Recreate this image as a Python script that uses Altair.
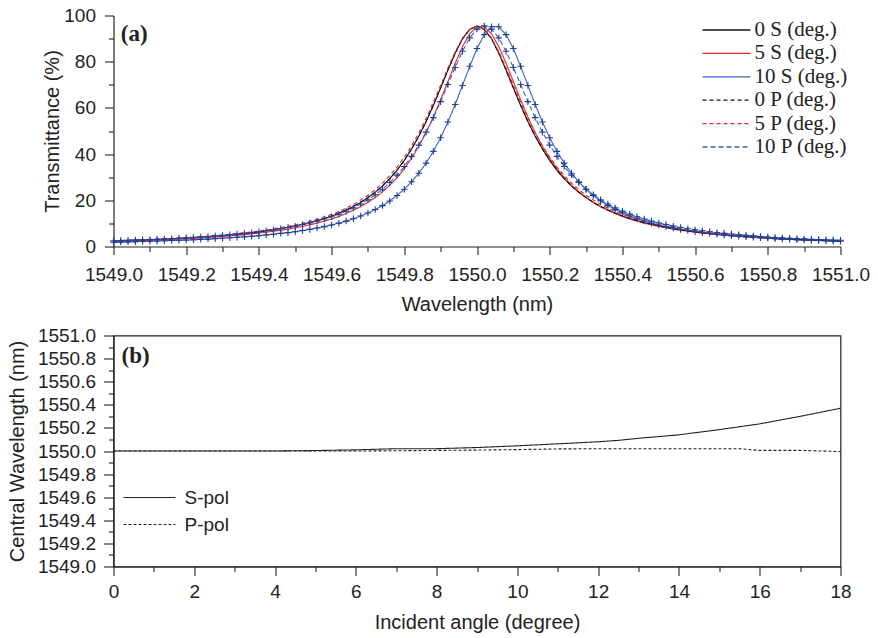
import altair as alt
import pandas as pd

# ---------------- panel (a) data ----------------
wl_start, wl_step, n_pts = 1549.0, 0.02, 101
wavelength = [round(wl_start + wl_step * i, 2) for i in range(n_pts)]

T_0S = [2.4, 2.5, 2.6, 2.7, 2.8, 2.9, 3.1, 3.2, 3.3, 3.5, 3.7, 3.9, 4.1, 4.3, 4.5, 4.7, 5.0, 5.3, 5.6, 6.0,
        6.3, 6.8, 7.2, 7.7, 8.3, 8.9, 9.6, 10.3, 11.2, 12.1, 13.2, 14.4, 15.8, 17.3, 19.1, 21.2, 23.5, 26.2, 29.4, 33.0,
        37.3, 42.2, 47.8, 54.1, 61.1, 68.7, 76.4, 83.7, 89.9, 94.0, 95.5, 94.0, 89.9, 83.7, 76.4, 68.7, 61.1, 54.1, 47.8, 42.2,
        37.3, 33.0, 29.4, 26.2, 23.5, 21.2, 19.1, 17.3, 15.8, 14.4, 13.2, 12.1, 11.2, 10.3, 9.6, 8.9, 8.3, 7.7, 7.2, 6.8,
        6.3, 6.0, 5.6, 5.3, 5.0, 4.7, 4.5, 4.3, 4.1, 3.9, 3.7, 3.5, 3.3, 3.2, 3.1, 2.9, 2.8, 2.7, 2.6, 2.5, 2.4]
T_5S = [2.2, 2.3, 2.4, 2.5, 2.6, 2.7, 2.8, 2.9, 3.1, 3.2, 3.4, 3.5, 3.7, 3.9, 4.1, 4.3, 4.6, 4.9, 5.1, 5.5,
        5.8, 6.2, 6.6, 7.0, 7.5, 8.1, 8.7, 9.4, 10.1, 11.0, 11.9, 13.0, 14.3, 15.7, 17.3, 19.1, 21.2, 23.7, 26.5, 29.8,
        33.7, 38.2, 43.4, 49.3, 56.1, 63.5, 71.4, 79.3, 86.5, 92.1, 95.1, 95.1, 92.1, 86.5, 79.3, 71.4, 63.5, 56.1, 49.3, 43.4,
        38.2, 33.7, 29.8, 26.5, 23.7, 21.2, 19.1, 17.3, 15.7, 14.3, 13.0, 11.9, 11.0, 10.1, 9.4, 8.7, 8.1, 7.5, 7.0, 6.6,
        6.2, 5.8, 5.5, 5.1, 4.9, 4.6, 4.3, 4.1, 3.9, 3.7, 3.5, 3.4, 3.2, 3.1, 2.9, 2.8, 2.7, 2.6, 2.5, 2.4, 2.3]
T_10S = [1.9, 1.9, 2.0, 2.1, 2.2, 2.3, 2.4, 2.5, 2.6, 2.7, 2.8, 2.9, 3.1, 3.2, 3.4, 3.6, 3.8, 4.0, 4.2, 4.4,
         4.7, 5.0, 5.3, 5.7, 6.0, 6.4, 6.9, 7.4, 8.0, 8.6, 9.3, 10.1, 11.0, 12.0, 13.2, 14.5, 16.0, 17.7, 19.7, 22.1,
         24.8, 28.0, 31.7, 36.1, 41.2, 47.1, 53.9, 61.5, 69.7, 78.0, 85.7, 91.7, 95.1, 95.1, 91.7, 85.7, 78.0, 69.7, 61.5, 53.9,
         47.1, 41.2, 36.1, 31.7, 28.0, 24.8, 22.1, 19.7, 17.7, 16.0, 14.5, 13.2, 12.0, 11.0, 10.1, 9.3, 8.6, 8.0, 7.4, 6.9,
         6.4, 6.0, 5.7, 5.3, 5.0, 4.7, 4.4, 4.2, 4.0, 3.8, 3.6, 3.4, 3.2, 3.1, 2.9, 2.8, 2.7, 2.6, 2.5, 2.4, 2.3]
T_0P = [2.4, 2.5, 2.6, 2.7, 2.8, 2.9, 3.1, 3.2, 3.3, 3.5, 3.7, 3.9, 4.1, 4.3, 4.5, 4.7, 5.0, 5.3, 5.6, 6.0,
        6.3, 6.8, 7.2, 7.7, 8.3, 8.9, 9.6, 10.3, 11.2, 12.1, 13.2, 14.4, 15.8, 17.3, 19.1, 21.2, 23.5, 26.2, 29.4, 33.0,
        37.3, 42.2, 47.8, 54.1, 61.1, 68.7, 76.4, 83.7, 89.9, 94.0, 95.5, 94.0, 89.9, 83.7, 76.4, 68.7, 61.1, 54.1, 47.8, 42.2,
        37.3, 33.0, 29.4, 26.2, 23.5, 21.2, 19.1, 17.3, 15.8, 14.4, 13.2, 12.1, 11.2, 10.3, 9.6, 8.9, 8.3, 7.7, 7.2, 6.8,
        6.3, 6.0, 5.6, 5.3, 5.0, 4.7, 4.5, 4.3, 4.1, 3.9, 3.7, 3.5, 3.3, 3.2, 3.1, 2.9, 2.8, 2.7, 2.6, 2.5, 2.4]
T_5P = [2.5, 2.6, 2.7, 2.9, 3.0, 3.1, 3.2, 3.4, 3.5, 3.7, 3.9, 4.1, 4.3, 4.5, 4.8, 5.0, 5.3, 5.6, 6.0, 6.3,
        6.7, 7.2, 7.6, 8.2, 8.7, 9.4, 10.1, 10.9, 11.8, 12.8, 13.9, 15.1, 16.6, 18.2, 20.1, 22.2, 24.6, 27.4, 30.7, 34.4,
        38.7, 43.6, 49.2, 55.5, 62.5, 69.8, 77.3, 84.3, 90.2, 94.1, 95.5, 94.1, 90.2, 84.3, 77.3, 69.8, 62.5, 55.5, 49.2, 43.6,
        38.7, 34.4, 30.7, 27.4, 24.6, 22.2, 20.1, 18.2, 16.6, 15.1, 13.9, 12.8, 11.8, 10.9, 10.1, 9.4, 8.7, 8.2, 7.6, 7.2,
        6.7, 6.3, 6.0, 5.6, 5.3, 5.0, 4.8, 4.5, 4.3, 4.1, 3.9, 3.7, 3.5, 3.4, 3.2, 3.1, 3.0, 2.9, 2.7, 2.6, 2.5]
T_10P = [2.5, 2.6, 2.7, 2.8, 2.9, 3.0, 3.1, 3.3, 3.4, 3.6, 3.8, 3.9, 4.1, 4.3, 4.6, 4.8, 5.1, 5.4, 5.7, 6.0,
         6.4, 6.8, 7.2, 7.7, 8.2, 8.8, 9.5, 10.2, 11.0, 11.9, 12.9, 14.0, 15.3, 16.7, 18.4, 20.2, 22.4, 24.8, 27.7, 30.9,
         34.6, 39.0, 43.9, 49.5, 55.8, 62.7, 70.1, 77.5, 84.5, 90.3, 94.1, 95.5, 94.1, 90.3, 84.5, 77.5, 70.1, 62.7, 55.8, 49.5,
         43.9, 39.0, 34.6, 30.9, 27.7, 24.8, 22.4, 20.2, 18.4, 16.7, 15.3, 14.0, 12.9, 11.9, 11.0, 10.2, 9.5, 8.8, 8.2, 7.7,
         7.2, 6.8, 6.4, 6.0, 5.7, 5.4, 5.1, 4.8, 4.6, 4.3, 4.1, 3.9, 3.8, 3.6, 3.4, 3.3, 3.1, 3.0, 2.9, 2.8, 2.7]

series_names = ["\u20070 S (deg.)", "\u20075 S (deg.)", "10 S (deg.)",
                "\u20070 P (deg.)", "\u20075 P (deg.)", "10 P (deg.)"]
series_values = [T_0S, T_5S, T_10S, T_0P, T_5P, T_10P]
series_colors = ["#111111", "#e8262a", "#3a63c2", "#111111", "#e8262a", "#3a63c2"]
series_dashes = [[1, 0], [1, 0], [1, 0], [4, 3], [4, 3], [5, 3]]
marker_series = ["10 S (deg.)", "10 P (deg.)"]

# ---------------- panel (b) data ----------------
angle_S = [0, 1, 2, 3, 4, 5, 6, 7, 8, 9, 10, 11, 12, 12.5, 13, 14, 15, 16, 17, 18]
cw_S = [1550.000, 1550.000, 1550.000, 1550.000, 1550.000, 1550.004, 1550.010, 1550.020, 1550.020, 1550.030,
        1550.045, 1550.062, 1550.080, 1550.092, 1550.110, 1550.140, 1550.185, 1550.235, 1550.300, 1550.370]
angle_P = [0, 1, 2, 3, 4, 5, 6, 7, 8, 9, 10, 11, 12, 13, 14, 15, 15.5, 16, 17, 18]
cw_P = [1550.000, 1550.000, 1550.000, 1550.000, 1550.000, 1550.000, 1550.000, 1550.002, 1550.005, 1550.008,
        1550.012, 1550.018, 1550.020, 1550.020, 1550.020, 1550.020, 1550.020, 1550.005, 1550.005, 1549.995]
pol_names = ["S-pol", "P-pol"]

# tick positions / labels
xa_ticks = [round(1549.0 + 0.1 * i, 1) for i in range(21)]
ya_ticks = [10 * i for i in range(11)]
xb_ticks = list(range(19))
yb_ticks = [round(1549.0 + 0.1 * i, 1) for i in range(21)]

# ---------------- build tables ----------------
rows_a = []
for name, vals in zip(series_names, series_values):
    for w, t in zip(wavelength, vals):
        rows_a.append({"wl": w, "T": t, "series": name})
df_a = pd.DataFrame(rows_a)

rows_b = []
for a, c in zip(angle_S, cw_S):
    rows_b.append({"angle": a, "cw": c, "pol": "S-pol"})
for a, c in zip(angle_P, cw_P):
    rows_b.append({"angle": a, "cw": c, "pol": "P-pol"})
df_b = pd.DataFrame(rows_b)

INK = "#222222"
SANS = "Liberation Sans"
SERIF = "Liberation Serif"

major_02 = "round(datum.value*10) % 2 == 0"


def tick_size(test, major, minor):
    return {"condition": {"test": test, "value": major}, "value": minor}


ax_xa = alt.Axis(values=xa_ticks, tickCount=100, labelExpr=f"({major_02}) ? format(datum.value, '.1f') : ''",
                 tickSize=tick_size(major_02, 8, 5), labelFlush=False, labelOverlap=False,
                 labelPadding=11, titlePadding=10, title="Wavelength (nm)")
ax_ya = alt.Axis(values=ya_ticks, tickCount=100, labelExpr="(datum.value % 20 == 0) ? datum.value : ''",
                 tickSize=tick_size("datum.value % 20 == 0", 9, 5), labelOverlap=False,
                 labelPadding=9, titlePadding=1, title="Transmittance (%)")

legend_a = alt.Legend(title=None, orient="none", legendX=588, legendY=4, symbolType="stroke",
                      symbolSize=2300, symbolStrokeWidth=1.3, labelFont=SERIF, labelFontSize=21,
                      labelColor=INK, clipHeight=21, rowPadding=1.4, labelOffset=3, padding=0)

lines_a = alt.Chart(df_a).mark_line(strokeWidth=1.1).encode(
    x=alt.X("wl:Q", scale=alt.Scale(domain=[1549.0, 1551.0], nice=False, zero=False), axis=ax_xa),
    y=alt.Y("T:Q", scale=alt.Scale(domain=[0, 100], nice=False), axis=ax_ya),
    color=alt.Color("series:N", scale=alt.Scale(domain=series_names, range=series_colors), legend=legend_a),
    strokeDash=alt.StrokeDash("series:N", scale=alt.Scale(domain=series_names, range=series_dashes),
                              legend=legend_a),
)

marks_a = alt.Chart(df_a).transform_filter(
    alt.FieldOneOfPredicate(field="series", oneOf=marker_series)
).mark_point(shape="M-1,0L1,0M0,-1L0,1", filled=False, size=42, strokeWidth=1.1,
             color="#1d3f96", opacity=1).encode(x="wl:Q", y="T:Q")

lab_a = alt.Chart(pd.DataFrame({"x": [1549.02], "y": [89.0], "t": ["(a)"]})).mark_text(
    font=SERIF, fontSize=23, fontWeight="bold", align="left", baseline="alphabetic", color=INK
).encode(x="x:Q", y="y:Q", text="t:N")

top = alt.layer(lines_a, marks_a, lab_a).properties(
    width=727, height=231, view=alt.ViewBackground(stroke="transparent"))

# ---------------- panel (b) ----------------
ax_xb = alt.Axis(values=xb_ticks, tickCount=100, labelExpr="(datum.value % 2 == 0) ? datum.value : ''",
                 tickSize=tick_size("datum.value % 2 == 0", 9, 5), labelFlush=False, labelOverlap=False,
                 labelPadding=7, titlePadding=11, title="Incident angle (degree)")
ax_yb = alt.Axis(values=yb_ticks, tickCount=100, labelExpr=f"({major_02}) ? format(datum.value, '.1f') : ''",
                 tickSize=tick_size(major_02, 10, 5), labelOverlap=False,
                 labelPadding=8, titlePadding=9.5, title="Central Wavelength (nm)")

legend_b = alt.Legend(title=None, orient="none", legendX=9, legendY=150, symbolType="stroke",
                      symbolSize=2700, symbolStrokeWidth=1.2, symbolStrokeColor=INK,
                      labelFont=SANS, labelFontSize=19, labelColor=INK, clipHeight=24, rowPadding=3,
                      labelOffset=8, padding=0)

lines_b = alt.Chart(df_b).mark_line(strokeWidth=1.1, color=INK).encode(
    x=alt.X("angle:Q", scale=alt.Scale(domain=[0, 18], nice=False), axis=ax_xb),
    y=alt.Y("cw:Q", scale=alt.Scale(domain=[1549.0, 1551.0], nice=False, zero=False), axis=ax_yb),
    strokeDash=alt.StrokeDash("pol:N", scale=alt.Scale(domain=pol_names, range=[[1, 0], [3, 2]]),
                              legend=legend_b),
)

lab_b = alt.Chart(pd.DataFrame({"x": [0.2], "y": [1550.76], "t": ["(b)"]})).mark_text(
    font=SERIF, fontSize=23, fontWeight="bold", align="left", baseline="alphabetic", color=INK
).encode(x="x:Q", y="y:Q", text="t:N")

bottom = alt.layer(lines_b, lab_b).properties(
    width=727, height=231, view=alt.ViewBackground(stroke=INK, strokeWidth=1.2))

chart = alt.vconcat(top, bottom, spacing=89, bounds="flush").resolve_scale(
    color="independent", strokeDash="independent"
).properties(
    padding={"left": 6.5, "top": 5.5, "right": 6, "bottom": 4}
).configure(
    background="white"
).configure_axis(
    domainColor=INK, tickColor=INK, labelColor=INK, titleColor=INK, domainWidth=1.2, tickWidth=1.1,
    labelFont=SANS, titleFont=SANS, labelFontSize=19, titleFontSize=20, titleFontWeight="normal",
    grid=False, labelOverlap=False
).configure_view(stroke="transparent")

chart.save("out.html", embed_options={"renderer": "svg", "actions": False})
